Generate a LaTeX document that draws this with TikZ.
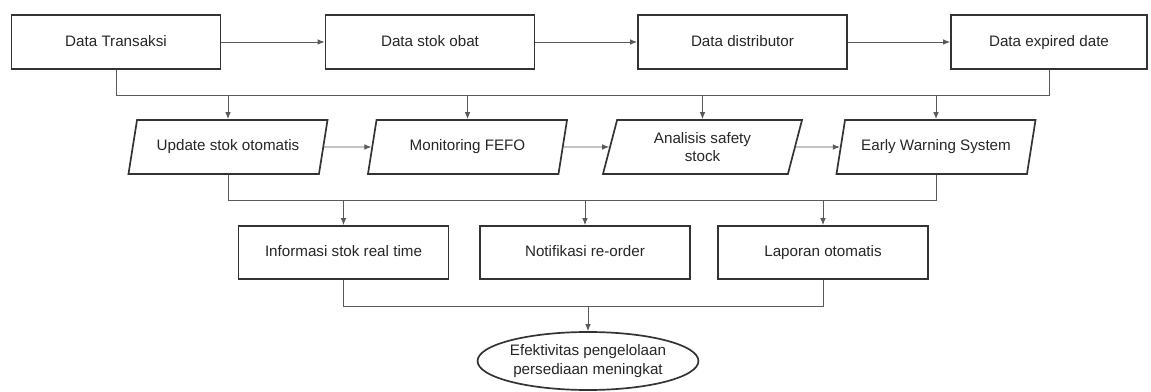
\documentclass[tikz,border=0pt]{standalone}
\usepackage{fontspec}
\setmainfont{Liberation Sans}
\usepackage{tikz}
\usetikzlibrary{shapes.geometric}
\usetikzlibrary{arrows.meta,arrows}
\usetikzlibrary{positioning}
\colorlet{BoxGray}{black!80}
\colorlet{LineGray}{black!65}
\colorlet{TextGray}{black!85}

\begin{document}
\begin{tikzpicture}[x=0.025cm, y=0.025cm,
  every node/.style={font=\fontsize{10.8}{13}\selectfont, text=TextGray},
  DataBox/.style={draw=BoxGray, line width=1.2pt, rectangle,
    text height=1.6ex, text depth=0.45ex,
    minimum width=5.225cm, minimum height=1.35cm},
  ProcBox/.style={draw=BoxGray, line width=1.2pt, trapezium,
    trapezium left angle=70, trapezium right angle=110,
    trapezium stretches body, inner xsep=1pt,
    minimum width=4.975cm, minimum height=1.35cm, align=center},
  OutBox/.style={DataBox, minimum width=5.25cm, minimum height=1.325cm},
  GoalBox/.style={draw=BoxGray, line width=1.2pt, ellipse, align=center,
    inner sep=0pt, minimum width=5.25cm, minimum height=1.45cm},
  flow/.style={draw=LineGray, line width=0.7pt},
  flowArrow/.style={flow, arrows=-{Latex[length=5pt, width=4pt]}}]

% The frame
\useasboundingbox (0,0) rectangle (1151,-392);

\def \yONE   {-42}
\def \yTWO   {-147}
\def \yTHREE {-252.5}
\def \yBusA  {-95}
\def \yBusB  {-200}
\def \yBusC  {-306}

% Data row
\node[DataBox] (dt) at (116, \yONE) {Data Transaksi};
\node[DataBox] (ds) at (430, \yONE) {Data stok obat};
\node[DataBox] (dd) at (742.5, \yONE) {Data distributor};
\node[DataBox, minimum width=4.9cm] (de) at (1049, \yONE) {Data expired date};

\draw[flowArrow] (dt) -- (ds);
\draw[flowArrow] (ds) -- (dd);
\draw[flowArrow] (dd) -- (de);

% Process row
\node[ProcBox] (up) at (228, \yTWO) {Update stok otomatis};
\node[ProcBox] (mf) at (467.5, \yTWO) {Monitoring FEFO};
\node[ProcBox] (as) at (702.5, \yTWO) {Analisis safety\\stock};
\node[ProcBox] (ew) at (936, \yTWO) {Early Warning System};

\draw[flowArrow] (up) -- (mf);
\draw[flowArrow] (mf) -- (as);
\draw[flowArrow] (as) -- (ew);

%first bus line
\coordinate (BusA) at (0, \yBusA);
\draw[flow] (dt.south) -- (dt.south |- BusA) -| (de.south);
\foreach \n in {up, mf, as, ew}
  \draw[flowArrow] (\n.north |- BusA) -- (\n.north);

% Output row
\node[OutBox] (ir) at (343.5, \yTHREE) {Informasi stok real time};
\node[OutBox] (nr) at (585, \yTHREE) {Notifikasi re-order};
\node[OutBox] (lo) at (823, \yTHREE) {Laporan otomatis};

%second bus line
\coordinate (BusB) at (0, \yBusB);
\draw[flow] (up.south) -- (up.south |- BusB) -| (ew.south);
\foreach \n in {ir, nr, lo}
  \draw[flowArrow] (\n.north |- BusB) -- (\n.north);

% Goal
\node[GoalBox] (goal) at (588, -361) {Efektivitas pengelolaan\\persediaan meningkat};

%third bus line
\coordinate (BusC) at (0, \yBusC);
\draw[flow] (ir.south) -- (ir.south |- BusC) -| (lo.south);
\draw[flowArrow] (goal.north |- BusC) -- (goal.north);

\end{tikzpicture}
\end{document}
